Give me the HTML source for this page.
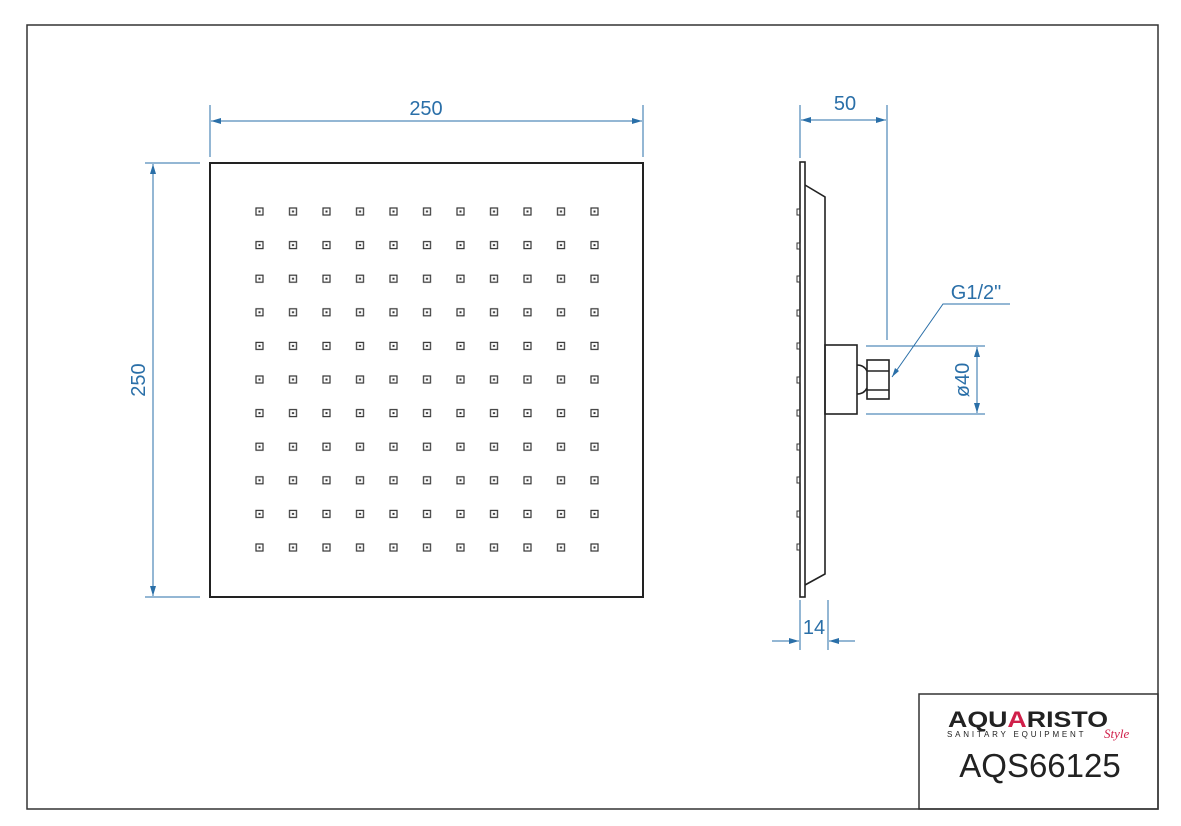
<!DOCTYPE html>
<html><head><style>body{margin:0;background:#fff}svg{display:block}</style></head><body>
<svg width="1181" height="826" viewBox="0 0 1181 826" xmlns="http://www.w3.org/2000/svg">
<defs>
<marker id="a" viewBox="0 0 10 6" refX="10" refY="3" markerWidth="10" markerHeight="6" orient="auto-start-reverse" markerUnits="userSpaceOnUse"><path d="M0,0L10,3L0,6z" fill="#2a6fa8"/></marker>
<pattern id="p" patternUnits="userSpaceOnUse" x="242.75" y="194.7" width="33.5" height="33.6">
<rect x="13.25" y="13.3" width="7" height="7" fill="none" stroke="#333" stroke-width="1.2"/><rect x="15.75" y="15.8" width="2" height="2" fill="#333"/>
</pattern>
</defs>
<rect x="27" y="25" width="1131" height="784" fill="none" stroke="#333" stroke-width="1.5"/>
<rect x="919" y="694" width="239" height="115" fill="none" stroke="#333" stroke-width="1.5"/>
<rect x="242.75" y="194.7" width="368.5" height="369.6" fill="url(#p)"/>
<rect x="210" y="163" width="433" height="434" fill="none" stroke="#222" stroke-width="2"/>
<g stroke="#2a6fa8" stroke-width="1" fill="none">
<line x1="210" y1="105" x2="210" y2="157"/><line x1="643" y1="105" x2="643" y2="157"/>
<line x1="211" y1="121" x2="642" y2="121" marker-start="url(#a)" marker-end="url(#a)"/>
<line x1="145" y1="163" x2="200" y2="163"/><line x1="145" y1="597" x2="200" y2="597"/>
<line x1="153" y1="164" x2="153" y2="596" marker-start="url(#a)" marker-end="url(#a)"/>
<line x1="800" y1="105" x2="800" y2="158"/><line x1="887" y1="105" x2="887" y2="340"/>
<line x1="801" y1="120" x2="886" y2="120" marker-start="url(#a)" marker-end="url(#a)"/>
<line x1="800" y1="600" x2="800" y2="650"/><line x1="828" y1="600" x2="828" y2="650"/>
<line x1="772" y1="641" x2="799" y2="641" marker-end="url(#a)"/><line x1="855" y1="641" x2="829" y2="641" marker-end="url(#a)"/>
<line x1="866" y1="346" x2="985" y2="346"/><line x1="866" y1="414" x2="985" y2="414"/>
<line x1="977" y1="347" x2="977" y2="413" marker-start="url(#a)" marker-end="url(#a)"/>
<polyline points="1010,304 943,304 892,377"/>
</g>
<path d="M892,377 L895,368 L899,371z" fill="#2a6fa8"/>
<g fill="#2a6fa8" font-family="Liberation Sans, sans-serif" font-size="20">
<text x="426" y="115" text-anchor="middle">250</text>
<text x="845" y="110" text-anchor="middle">50</text>
<text x="814" y="634" text-anchor="middle">14</text>
<text x="976" y="299" text-anchor="middle">G1/2"</text>
<text transform="translate(145,380) rotate(-90)" text-anchor="middle">250</text>
<text transform="translate(969,380) rotate(-90)" text-anchor="middle">ø40</text>
</g>
<g stroke="#222" stroke-width="1.6" fill="none">
<rect x="800" y="162" width="5" height="435"/>
<polyline points="805,185 825,197 825,574 805,585"/>
<rect x="825" y="345" width="32" height="69"/>
<rect x="867" y="360" width="22" height="39"/>
<line x1="867" y1="371" x2="889" y2="371"/><line x1="867" y1="390" x2="889" y2="390"/>
<path d="M857,365 Q864,365 867,371 M857,394 Q864,394 867,388"/>
</g>
<g fill="none" stroke="#333" stroke-width="1">
<rect x="797" y="209" width="3" height="6"/><rect x="797" y="243" width="3" height="6"/><rect x="797" y="276" width="3" height="6"/><rect x="797" y="310" width="3" height="6"/><rect x="797" y="343" width="3" height="6"/><rect x="797" y="377" width="3" height="6"/><rect x="797" y="410" width="3" height="6"/><rect x="797" y="444" width="3" height="6"/><rect x="797" y="477" width="3" height="6"/><rect x="797" y="511" width="3" height="6"/><rect x="797" y="544" width="3" height="6"/>
</g>
<g font-family="Liberation Sans, sans-serif">
<text x="948" y="727" font-size="22" font-weight="bold" fill="#222" textLength="160" lengthAdjust="spacingAndGlyphs">AQU<tspan fill="#d0204a">A</tspan>RISTO</text>
<text x="947" y="737" font-size="8" fill="#222" letter-spacing="2.8">SANITARY EQUIPMENT</text>
<text x="1104" y="738" font-size="13" font-style="italic" fill="#d0204a" font-family="Liberation Serif, serif">Style</text>
<text x="1040" y="777" font-size="33" fill="#222" text-anchor="middle">AQS66125</text>
</g>
</svg>
</body></html>
